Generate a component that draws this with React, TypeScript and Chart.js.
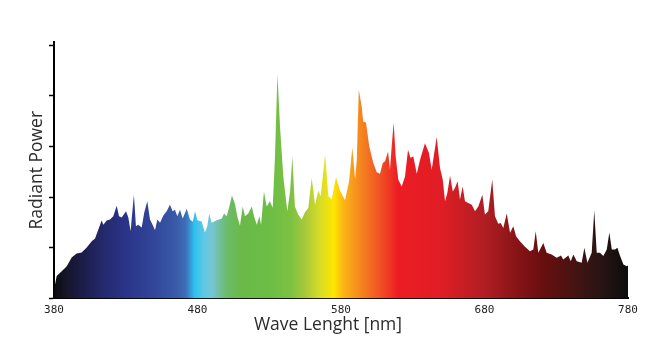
import React, { useEffect, useRef } from "react";
import { Chart, registerables } from "chart.js";

Chart.register(...registerables);

const wavelengths = [
  380, 381.9, 385.4, 388.9, 392.3, 395.8, 399.3, 402.8, 406.3, 408.6,
  410.9, 413.2, 414.4, 416.7, 419.0, 421.3, 423.7, 425.3, 427.2, 430.2,
  431.8, 433.4, 434.1, 435.7, 437.1, 438.7, 441.1, 442.9, 445.0, 446.9,
  449.2, 450.4, 452.0, 453.9, 456.2, 458.5, 460.8, 462.7, 464.3, 465.9,
  467.8, 469.7, 472.5, 474.8, 476.7, 478.3, 479.9, 482.9, 485.2, 486.8,
  488.2, 489.9, 493.4, 496.9, 498.5, 500.3, 502.2, 504.0, 506.1, 507.7,
  509.6, 511.5, 513.1, 515.4, 517.8, 519.4, 521.3, 523.1, 524.3, 526.3,
  528.2, 530.5, 532.4, 534.0, 535.7, 537.5, 539.8, 542.6, 544.5, 546.1,
  547.9, 550.2, 552.6, 554.9, 557.2, 559.6, 561.9, 564.2, 565.9, 568.9,
  571.2, 573.5, 576.5, 579.3, 582.8, 585.6, 587.9, 589.8, 591.0, 592.4,
  594.4, 595.5, 597.4, 599.7, 602.5, 604.9, 607.2, 609.1, 610.7, 612.8,
  614.1, 615.5, 616.7, 618.1, 619.9, 622.3, 624.6, 626.7, 628.4, 630.4,
  632.8, 635.1, 638.5, 641.3, 643.2, 644.8, 646.7, 649.0, 650.9, 652.5,
  654.1, 656.0, 657.9, 659.4, 661.3, 662.9, 664.8, 666.4, 668.7, 671.1,
  673.4, 675.7, 678.5, 680.3, 682.6, 685.4, 687.3, 689.6, 691.3, 693.1,
  695.5, 697.8, 700.1, 702.0, 704.7, 708.2, 711.7, 714.0, 715.7, 717.5,
  721.0, 723.3, 726.8, 730.3, 733.3, 734.9, 738.4, 740.1, 741.9, 744.3,
  747.7, 749.6, 751.7, 754.7, 756.5, 758.2, 760.5, 762.8, 765.2, 767.0,
  768.7, 771.0, 772.6, 774.5, 776.8, 779.2, 780,
];

const radiantPower = [
  3.5, 8.8, 10.7, 12.7, 16.1, 17.7, 18.1, 20.1, 22.6, 23.6,
  27.2, 30.7, 29.1, 30.7, 31.1, 32.4, 36.6, 32.4, 31.9, 34.4,
  31.9, 26.5, 31.1, 40.9, 28.5, 29.1, 28.0, 33.9, 38.3, 31.1,
  28.5, 26.9, 31.1, 29.9, 32.7, 34.4, 37.0, 34.4, 35.0, 32.4,
  35.0, 31.5, 35.4, 31.1, 30.3, 34.4, 30.8, 30.4, 26.0, 28.5,
  33.5, 29.9, 30.8, 31.5, 33.5, 32.4, 36.3, 40.6, 37.4, 32.4,
  28.7, 36.3, 32.4, 33.5, 36.3, 32.4, 29.1, 32.4, 29.1, 42.2,
  36.3, 38.3, 35.8, 56.0, 88.6, 67.8, 48.1, 34.4, 42.2, 56.0,
  36.3, 33.1, 31.1, 34.0, 35.7, 47.5, 37.0, 42.6, 40.3, 56.7,
  40.3, 39.0, 47.9, 42.5, 38.7, 46.1, 59.7, 46.9, 54.7, 82.5,
  75.7, 69.7, 69.4, 60.0, 53.4, 49.8, 49.2, 53.4, 54.1, 58.0,
  50.8, 61.3, 69.4, 56.0, 46.9, 44.2, 48.1, 58.7, 55.5, 56.0,
  49.2, 54.7, 61.2, 57.4, 50.8, 56.7, 63.7, 51.5, 46.9, 38.3,
  41.6, 48.4, 42.2, 43.6, 46.2, 39.0, 44.2, 38.3, 37.7, 37.0,
  34.4, 36.3, 40.9, 33.1, 34.4, 46.9, 32.4, 29.5, 29.8, 27.8,
  33.5, 25.9, 28.5, 24.5, 22.6, 20.4, 18.6, 19.3, 26.5, 18.0,
  21.9, 18.0, 17.3, 16.0, 16.9, 15.4, 16.9, 14.7, 17.3, 14.7,
  14.1, 20.0, 14.1, 18.0, 34.8, 18.0, 18.0, 16.7, 19.3, 26.0,
  19.3, 19.3, 20.0, 16.7, 13.4, 12.7, 13.0,
];

const xTicks = [380, 480, 580, 680, 780];
const yTicks = [0, 20, 40, 60, 80, 100];

const spectrumStopNm = [
  380, 388, 400, 415, 430, 450, 465, 472, 478, 484, 490, 500, 510, 530,
  545, 555, 565, 575, 582, 590, 605, 620, 650, 680, 700, 720, 740, 760, 780,
];
const spectrumStopColor = [
  "#0b0b0d", "#151528", "#1c1c4a", "#242a6e", "#2a3488", "#32479a", "#3a5aa8",
  "#3d6fb8", "#2cc3f0", "#5cc8e6", "#75c6d6", "#6cbc6c", "#6ab94a", "#6cbd45",
  "#7cc242", "#a8c83a", "#d5dc28", "#ffe600", "#fbb316", "#f7941d", "#f15a24",
  "#ed1c24", "#e01d25", "#b01e23", "#8c1518", "#6a0e0f", "#4a1312", "#2a1414",
  "#0d0d0d",
];

export default function App() {
  const canvasRef = useRef<HTMLCanvasElement | null>(null);

  useEffect(() => {
    const canvas = canvasRef.current;
    if (!canvas) return;
    const points = wavelengths.map((x, i) => ({ x, y: radiantPower[i] }));

    const chart = new Chart(canvas, {
      type: "line",
      data: {
        datasets: [
          {
            data: points,
            fill: "origin",
            borderWidth: 0,
            pointRadius: 0,
            tension: 0,
            backgroundColor: (ctx: any) => {
              const ch = ctx.chart;
              const area = ch.chartArea;
              if (!area) return "#888";
              const xs = ch.scales.x;
              const g = ch.ctx.createLinearGradient(
                xs.getPixelForValue(380),
                0,
                xs.getPixelForValue(780),
                0
              );
              spectrumStopNm.forEach((nm, i) => {
                g.addColorStop((nm - 380) / 400, spectrumStopColor[i]);
              });
              return g;
            },
          },
        ],
      },
      options: {
        animation: false,
        responsive: false,
        maintainAspectRatio: false,
        layout: { padding: { left: 28, right: 26, top: 42, bottom: 12.6 } },
        plugins: {
          legend: { display: false },
          tooltip: { enabled: false },
          title: {
            display: true,
            position: "bottom",
            text: "Wave Lenght [nm]",
            color: "#2b2b2b",
            font: { family: "Open Sans", size: 17.5, weight: "normal", lineHeight: 1.2 },
            padding: { top: -3, bottom: 0 },
          },
        },
        scales: {
          x: {
            type: "linear",
            min: 380,
            max: 780,
            afterBuildTicks: (scale: any) => {
              scale.ticks = xTicks.map((v) => ({ value: v }));
            },
            afterFit: (scale: any) => {
              scale.height = 19;
            },
            grid: { display: false, drawTicks: false, tickLength: 0 },
            border: { display: true, color: "#000", width: 2 },
            ticks: {
              color: "#222",
              padding: 5,
              maxRotation: 0,
              font: { family: "DejaVu Sans Mono", size: 11 },
            },
          },
          y: {
            type: "linear",
            min: 0,
            max: 101.2,
            afterBuildTicks: (scale: any) => {
              scale.ticks = yTicks.map((v) => ({ value: v }));
            },
            afterFit: (scale: any) => {
              scale.width = 26;
            },
            grid: {
              display: true,
              drawOnChartArea: false,
              drawTicks: true,
              tickLength: 5,
              tickColor: "#000",
              tickWidth: 1.5,
            },
            border: { display: true, color: "#000", width: 2 },
            ticks: { display: false },
            title: {
              display: true,
              text: "Radiant Power",
              color: "#2b2b2b",
              font: { family: "Open Sans", size: 17.5, weight: "normal", lineHeight: 1 },
              padding: { top: 0, bottom: 0 },
            },
          },
        },
      },
    });
    return () => chart.destroy();
  }, []);

  return (
    <div style={{ position: "fixed", left: 0, top: 0, width: 654, height: 348, background: "#fff" }}>
      <canvas ref={canvasRef} width={654} height={348} style={{ width: 654, height: 348, display: "block" }} />
    </div>
  );
}
